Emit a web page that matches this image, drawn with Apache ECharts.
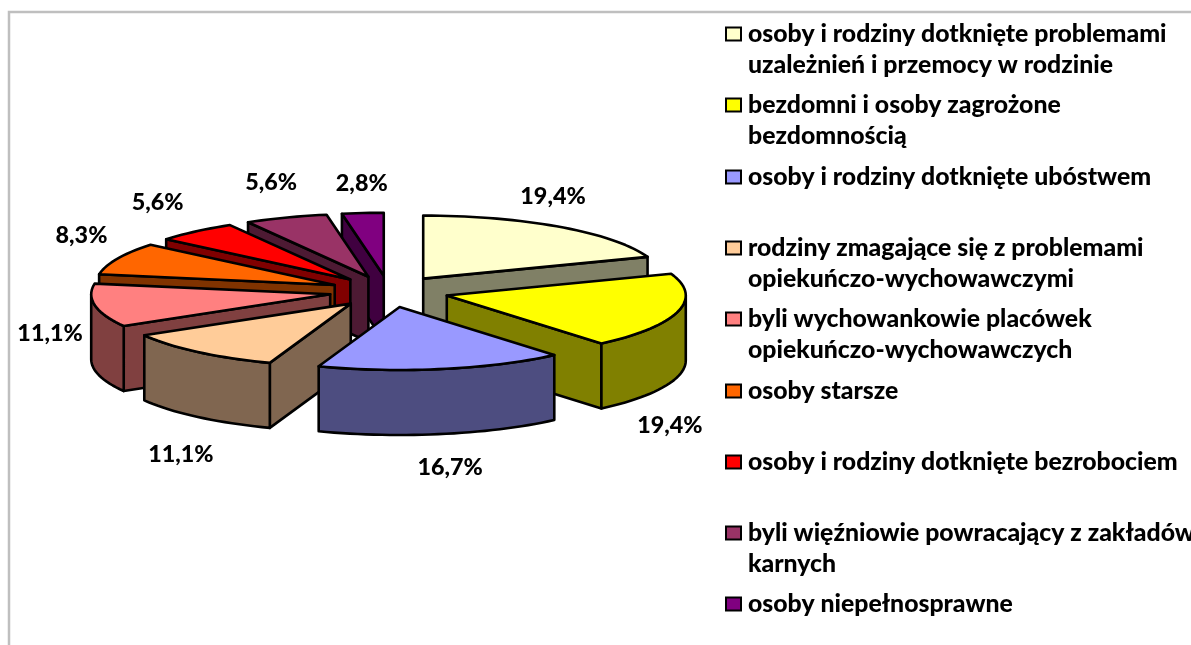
<!DOCTYPE html>
<html><head><meta charset="utf-8">
<style>html,body{margin:0;padding:0;background:#fff}#c{width:1191px;height:645px}</style>
<script src="https://cdn.jsdelivr.net/npm/echarts@6/dist/echarts.min.js"></script>
</head><body><div id="c"></div>
<script>
const categories = [
  'osoby i rodziny dotknięte problemami\nuzależnień i przemocy w rodzinie',
  'bezdomni i osoby zagrożone\nbezdomnością',
  'osoby i rodziny dotknięte ubóstwem',
  'rodziny zmagające się z problemami\nopiekuńczo-wychowawczymi',
  'byli wychowankowie placówek\nopiekuńczo-wychowawczych',
  'osoby starsze',
  'osoby i rodziny dotknięte bezrobociem',
  'byli więźniowie powracający z zakładów\nkarnych',
  'osoby niepełnosprawne'
];
const values = [19.4, 19.4, 16.7, 11.1, 11.1, 8.3, 5.6, 5.6, 2.8];
const topColors  = ['#FFFFCC','#FFFF00','#9999FF','#FFCC99','#FF8080','#FF6600','#FF0000','#993366','#800080'];
const sideColors = ['#808066','#808000','#4D4D80','#806650','#804040','#803300','#800000','#4D1A33','#400040'];

// layout constants
const FONT = 'Lato, Carlito, Calibri, sans-serif';
const WEIGHT = 900, LABEL_SIZE = 23.3, LEGEND_SIZE = 24.8;
const DEPTH = 65, EXPLODE = 0.25;
const labelOffsets = [[-7,-30],[-8,114],[8,98],[-17,102],[-45,28],[-36,-23],[-38,-29],[-15,-35],[-1,-30]];
const legendY = [34,105,177,248,319,391,462,533,604];
const LINE_H = 31;

const total = values.reduce((a,b)=>a+b,0);
let acc = 0;
const slices = values.map(v => { const s = acc/total*360; acc += v; return {s, e: acc/total*360}; });
const rad = d => d*Math.PI/180;
const depthRank = slices.map((sl,i)=>({i, k:Math.cos(rad((sl.s+sl.e)/2))}))
  .sort((a,b)=>b.k-a.k).map(o=>o.i);

function renderSlice(i){
  return function(params, api){
    const sl = slices[i], mid = rad((sl.s+sl.e)/2);
    const ox = EXPLODE*Math.sin(mid), oy = EXPLODE*Math.cos(mid);
    const pt = deg => api.coord([ox+Math.sin(rad(deg)), oy+Math.cos(rad(deg))]);
    const apex = api.coord([ox,oy]);
    const down = p => [p[0], p[1]+DEPTH];
    const arc = (a,b) => { const r=[]; const n=Math.max(2,Math.ceil((b-a)/2));
      for(let k=0;k<=n;k++) r.push(pt(a+(b-a)*k/n)); return r; };
    const line = {stroke:'#000', lineWidth:2.6, lineJoin:'round'};
    const children = [];
    const poly = (points,fill) => children.push({type:'polygon', shape:{points}, style:Object.assign({fill},line)});
    if (Math.sin(rad(sl.e))>0) { const p=pt(sl.e); poly([apex,p,down(p),down(apex)], sideColors[i]); }
    if (Math.sin(rad(sl.s))<0) { const p=pt(sl.s); poly([apex,p,down(p),down(apex)], sideColors[i]); }
    const a=Math.max(sl.s,90), b=Math.min(sl.e,270);
    if (b>a) { const top=arc(a,b); poly(top.concat(top.map(down).reverse()), sideColors[i]); }
    poly([apex].concat(arc(sl.s,sl.e)), topColors[i]);
    const rim = pt((sl.s+sl.e)/2);
    children.push({type:'text', style:{
      x:rim[0]+labelOffsets[i][0], y:rim[1]+labelOffsets[i][1],
      text:api.value(0).toFixed(1).replace('.',',')+'%',
      align:'center', verticalAlign:'middle', fill:'#000',
      fontFamily:FONT, fontWeight:WEIGHT, fontSize:LABEL_SIZE}});
    return {type:'group', children};
  };
}

const series = categories.map((name,i)=>({
  type:'custom', name, coordinateSystem:'cartesian2d', clip:false,
  z:2+depthRank.indexOf(i), silent:true,
  itemStyle:{color:topColors[i]},
  encode:{x:0,y:0},
  data:[[values[i]]],
  renderItem:renderSlice(i)
}));

const legends = categories.map((name,i)=>{
  const two = name.includes('\n');
  return {
    data:[{name, icon:'rect'}], selectedMode:false, orient:'vertical',
    left:725, top:legendY[i]-(two?1.5:0.5)*LINE_H, padding:0,
    itemWidth:15, itemHeight:13,
    itemStyle:{borderColor:'#000', borderWidth:2},
    formatter:n=>n.includes('\n')?'\n'+n:n,
    textStyle:{fontFamily:FONT, fontWeight:WEIGHT, fontSize:LEGEND_SIZE, color:'#000', lineHeight:LINE_H, padding:[0,0,0,2]}
  };
});

const chart = echarts.init(document.getElementById('c'));
chart.setOption({
  animation:false, backgroundColor:'#fff',
  grid:{left:30.5, top:197, width:717, height:189},
  xAxis:{type:'value', min:-1.5, max:1.5, show:false},
  yAxis:{type:'value', min:-1.5, max:1.5, show:false},
  legend:legends,
  graphic:[{type:'polyline', shape:{points:[[9,645],[9,12],[1191,12]]},
    style:{stroke:'#BFBFBF', lineWidth:2.5, fill:null}}],
  series
});
</script></body></html>
